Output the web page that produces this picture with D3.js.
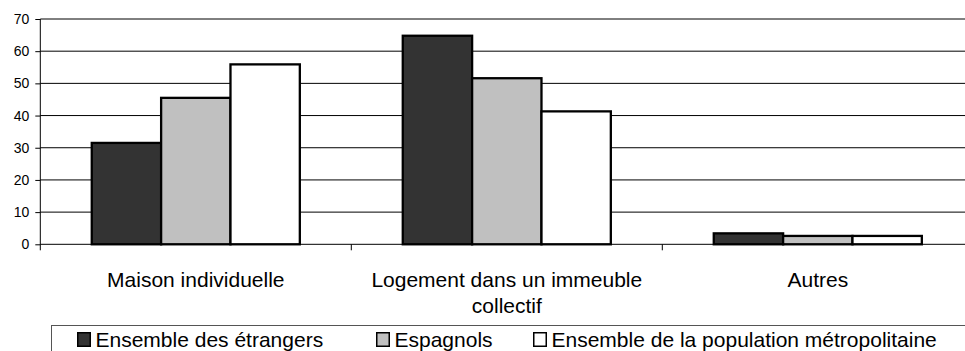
<!DOCTYPE html>
<html>
<head>
<meta charset="utf-8">
<script src="https://cdn.jsdelivr.net/npm/d3@7/dist/d3.min.js"></script>
<style>
  html, body { margin: 0; padding: 0; background: #fff; }
  svg { display: block; font-family: "Liberation Sans", Arial, sans-serif; }
</style>
</head>
<body>
<svg id="chart" width="965" height="351"></svg>
<script>
// Types de logement (en %)
const categories = ["Maison individuelle", "Logement dans un immeuble collectif", "Autres"];
const categoryLines = [["Maison individuelle"], ["Logement dans un immeuble", "collectif"], ["Autres"]];
const seriesNames = ["Ensemble des étrangers", "Espagnols", "Ensemble de la population métropolitaine"];
const etrangers = [31.5, 64.8, 3.4];
const espagnols = [45.5, 51.6, 2.6];
const population = [55.9, 41.3, 2.6];
const yTicks = [0, 10, 20, 30, 40, 50, 60, 70];

const seriesValues = [etrangers, espagnols, population];
const fills = ["#333333", "#c0c0c0", "#ffffff"];

const svg = d3.select("#chart");
const plotLeft = 40.3, plotRight = 973.3, plotTop = 19, plotBottom = 244.3;

const y = d3.scaleLinear().domain([0, 70]).range([plotBottom, plotTop]);
const x = d3.scaleBand().domain(categories).range([plotLeft, plotRight])
  .paddingInner(0.331).paddingOuter(0.1655);
const xs = d3.scaleBand().domain(seriesNames).range([0, x.bandwidth()]);

// Horizontal gridlines
svg.append("g").selectAll("line")
  .data(yTicks.filter(d => d > 0))
  .join("line")
  .attr("x1", plotLeft).attr("x2", 965)
  .attr("y1", d => y(d)).attr("y2", d => y(d))
  .attr("stroke", "#000").attr("stroke-width", 1);

// Y axis
const yAxis = d3.axisLeft(y).tickValues(yTicks).tickSize(5).tickPadding(6);
const gy = svg.append("g").attr("transform", `translate(${plotLeft},0)`).call(yAxis);
gy.select(".domain").remove();
gy.selectAll(".tick line").attr("stroke", "#000");
gy.selectAll(".tick text").attr("font-size", 14).attr("fill", "#000")
  .attr("font-family", "'Liberation Sans', Arial, sans-serif");
svg.append("line").attr("x1", plotLeft).attr("x2", plotLeft)
  .attr("y1", plotTop).attr("y2", plotBottom + 6).attr("stroke", "#000");

// Bars
const groups = svg.append("g").selectAll("g")
  .data(categories)
  .join("g")
  .attr("transform", d => `translate(${x(d)},0)`);
groups.selectAll("rect")
  .data((c, i) => seriesNames.map((s, j) => ({ s, j, v: seriesValues[j][i] })))
  .join("rect")
  .attr("x", d => xs(d.s))
  .attr("width", xs.bandwidth())
  .attr("y", d => y(d.v))
  .attr("height", d => y(0) - y(d.v))
  .attr("fill", d => fills[d.j])
  .attr("stroke", "#000")
  .attr("stroke-width", 2.3);

// X axis baseline and category separators
svg.append("line").attr("x1", plotLeft).attr("x2", 965)
  .attr("y1", plotBottom).attr("y2", plotBottom).attr("stroke", "#000");
const step = x.step();
svg.append("g").selectAll("line")
  .data(categories.slice(1))
  .join("line")
  .attr("x1", d => x(d) - step * x.paddingInner() / 2)
  .attr("x2", d => x(d) - step * x.paddingInner() / 2)
  .attr("y1", plotBottom).attr("y2", plotBottom + 6)
  .attr("stroke", "#000");

// Category labels
const labels = svg.append("g").selectAll("text")
  .data(categories)
  .join("text")
  .attr("text-anchor", "middle")
  .attr("font-size", 21)
  .attr("fill", "#000")
  .attr("transform", d => `translate(${x(d) + x.bandwidth() / 2},287)`);
labels.selectAll("tspan")
  .data((d, i) => categoryLines[i])
  .join("tspan")
  .attr("x", 0)
  .attr("dy", (d, i) => i === 0 ? 0 : 26)
  .text(d => d);

// Legend
svg.append("rect").attr("x", 51.5).attr("y", 325.5).attr("width", 940).attr("height", 60)
  .attr("fill", "none").attr("stroke", "#555").attr("stroke-width", 1);
const legendX = [77, 376, 533];
const leg = svg.append("g").selectAll("g")
  .data(seriesNames)
  .join("g")
  .attr("transform", (d, i) => `translate(${legendX[i]},332)`);
leg.append("rect").attr("x", 0.75).attr("y", 0.75).attr("width", 12.5).attr("height", 13.5)
  .attr("fill", (d, i) => fills[i]).attr("stroke", "#000").attr("stroke-width", 1.5);
leg.append("text").attr("x", 18.5).attr("y", 15).attr("font-size", 21).attr("fill", "#000")
  .text(d => d);
</script>
</body>
</html>
